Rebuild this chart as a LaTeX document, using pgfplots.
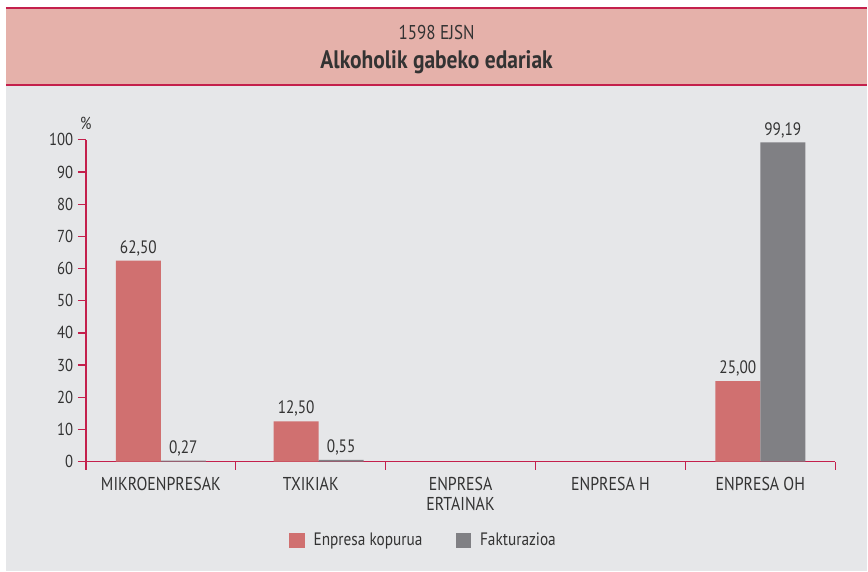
\documentclass[border=0pt]{standalone}
\usepackage{fontspec}
\setmainfont{PT Sans}[FakeStretch=0.85]
\usepackage{pgfplots}
\pgfplotsset{compat=1.18}
\definecolor{hdr}{HTML}{E5B1AA}
\definecolor{bg}{HTML}{E6E7E9}
\definecolor{axred}{HTML}{C4204C}
\definecolor{barred}{HTML}{D07070}
\definecolor{bargray}{HTML}{808084}
\definecolor{txt}{HTML}{333333}
\begin{document}
\begin{tikzpicture}
\fill[white] (0pt,0pt) rectangle (651pt,-429pt);
\fill[bg] (4.5pt,-64.5pt) rectangle (651pt,-428.6pt);
\fill[hdr] (4.5pt,-5.5pt) rectangle (651pt,-64.5pt);
\draw[axred,line width=1.2pt] (4.5pt,-5.8pt) -- (651pt,-5.8pt);
\draw[axred,line width=1.2pt] (4.5pt,-64pt) -- (651pt,-64pt);
\node[txt,font=\fontsize{15}{17}\selectfont] at (327.75pt,-24.4pt) {1598 EJSN};
\node[txt,font=\fontsize{19}{21}\selectfont\bfseries] at (327.75pt,-46.9pt) {Alkoholik gabeko edariak};
\begin{axis}[
  at={(64.5pt,-346.5pt)}, anchor=south west,
  x=112.5pt, y=2.415pt,
  xmin=-0.5, xmax=4.5, ymin=0, ymax=100,
  axis x line=bottom, axis y line=left,
  axis line style={axred, line width=0.9pt, -},
  tick align=outside, major tick length=6pt,
  tick style={axred, line width=0.9pt},
  xtick={-0.5,0.5,1.5,2.5,3.5,4.5},
  xticklabels={},
  extra x ticks={0,1,2,3,4},
  extra x tick labels={MIKROENPRESAK,TXIKIAK,{ENPRESA\\ERTAINAK},ENPRESA H,ENPRESA OH},
  extra x tick style={major tick length=0pt, tick label style={align=center, yshift=-8pt, font=\fontsize{14}{15}\selectfont}},
  ytick={0,10,...,100},
  /pgf/number format/assume math mode=true,
  tick label style={txt, font=\fontsize{13}{15}\selectfont},
  ybar=0pt, bar width=33.75pt,
  nodes near coords,
  point meta=explicit symbolic,
  every node near coord/.append style={txt, font=\fontsize{13.5}{15}\selectfont},
  legend style={draw=none, fill=none, at={(0.451,-0.245)}, anchor=center,
    legend columns=2, font=\fontsize{13.5}{15}\selectfont, text=txt,
    /tikz/every odd column/.append style={column sep=4.5pt},
    /tikz/every even column/.append style={column sep=23pt}},
  legend image code/.code={\fill[#1] (0pt,-5.9pt) rectangle (11.8pt,5.9pt);},
  clip=false,
]
\addplot[fill=barred, draw=none] coordinates {(0,62.5) [62,50] (1.053,12.5) [12,50] (4,25) [25,00]};
\addplot[fill=bargray, draw=none] coordinates {(0,0.27) [0,27] (1.053,0.55) [0,55] (4,99.19) [99,19]};
\legend{Enpresa kopurua, Fakturazioa}
\node[txt, font=\fontsize{13}{15}\selectfont, anchor=center] at (rel axis cs:0,1) [yshift=12pt] {\%};
\end{axis}
\end{tikzpicture}
\end{document}
